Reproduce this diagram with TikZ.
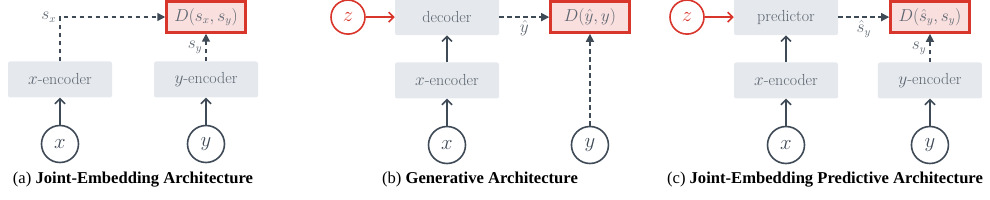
\documentclass[tikz,border=0pt]{standalone}
\usepackage{fontspec}
\usepackage{xcolor}
\newfontfamily\capfont{Liberation Serif}
\usetikzlibrary{arrows.meta, positioning}
\definecolor{ink}{HTML}{3F4A57}
\definecolor{boxfill}{HTML}{E5E8EC}
\definecolor{lossred}{HTML}{D8352B}
\definecolor{lossfill}{HTML}{F9DFDE}
\tikzset{
    module/.style={
        rectangle, rounded corners=2pt, fill=boxfill, text=ink!85,
        minimum width=104pt, minimum height=36pt, inner sep=0pt,
        font=\fontsize{16}{18}\selectfont
    },
    energy/.style={
        rectangle, draw=lossred, line width=2.5pt, fill=lossfill, text=ink!85,
        minimum width=79pt, minimum height=31pt, inner sep=0pt,
        font=\fontsize{16}{18}\selectfont
    },
    var/.style={
        circle, draw=ink, line width=1.6pt, text=ink, minimum size=37pt,
        inner sep=0pt, font=\fontsize{20}{22}\selectfont
    },
    latent/.style={
        var, draw=lossred, text=lossred, minimum size=34pt
    },
    feed/.style={
        -{Straight Barb[length=5pt, width=10pt, line width=1.6pt]}, line width=1.6pt, draw=ink
    },
    embed/.style={
        -{Triangle[length=8pt, width=8pt]}, line width=1.6pt, draw=ink,
        dash pattern=on 4.5pt off 3.5pt
    },
    lbl/.style={text=ink!85, font=\fontsize{16}{18}\selectfont, inner sep=3pt},
    caption/.style={font=\capfont\fontsize{16.6}{19}\selectfont, text=black}
}

\begin{document}
\begin{tikzpicture}[x=1pt, y=-1pt, node distance=27pt]
      \useasboundingbox (0,0) rectangle (990,200);

      % (a) joint-embedding
      \node[var] (xa) at (60,144) {$x$};
      \node[module, above=of xa] (encxa) {$x$-encoder};
      \node[var] (ya) at (206,144) {$y$};
      \node[module, above=of ya] (encya) {$y$-encoder};
      \node[energy] (da) at (206,17) {$D(s_x,s_y)$};

      \draw[feed] (xa) -- (encxa);
      \draw[feed] (ya) -- (encya);
      \draw[embed] (encxa.north) |- node[lbl, pos=0.5, left] {$s_x$} (da.west);
      \draw[embed] (encya.north) -- node[lbl, left] {$s_y$} (da.south);

      \node[caption] (capa) at (133,180) {(a) \textbf{Joint-Embedding Architecture}};

      % (b) generative
      \node[var] (xb) at (447,145) {$x$};
      \node[module, above=of xb] (encxb) {$x$-encoder};
      \node[module, above=of encxb] (dec) {decoder};
      \node[latent, left=29pt of dec] (zb) {$z$};
      \node[energy, right=50pt of dec] (db) {$D(\hat{y},y)$};
      \node[var] (yb) at (db |- xb) {$y$};

      \draw[feed] (xb) -- (encxb);
      \draw[feed] (encxb) -- (dec);
      \draw[feed, draw=lossred] (zb) -- (dec);
      \draw[embed] (dec) -- node[lbl, below] {$\hat{y}$} (db);
      \draw[embed] (yb) -- (db);

      \node[caption] (capb) at (480,180) {(b) \textbf{Generative Architecture}};

      % (c) joint-embedding predictive
      \node[var] (xc) at (786,145) {$x$};
      \node[module, above=of xc] (encxc) {$x$-encoder};
      \node[module, above=of encxc] (pred) {predictor};
      \node[latent, left=29pt of pred] (zc) {$z$};
      \node[energy, right=51pt of pred] (dc) {$D(\hat{s}_y,s_y)$};
      \node[var] (yc) at (dc |- xc) {$y$};
      \node[module, above=of yc] (encyc) {$y$-encoder};

      \draw[feed] (xc) -- (encxc);
      \draw[feed] (encxc) -- (pred);
      \draw[feed, draw=lossred] (zc) -- (pred);
      \draw[feed] (yc) -- (encyc);
      \draw[embed] (pred) -- node[lbl, below] {$\hat{s}_y$} (dc);
      \draw[embed] (encyc) -- node[lbl, left] {$s_y$} (dc);

      \node[caption] (capc) at (825,180) {(c) \textbf{Joint-Embedding Predictive Architecture}};
\end{tikzpicture}
\end{document}
